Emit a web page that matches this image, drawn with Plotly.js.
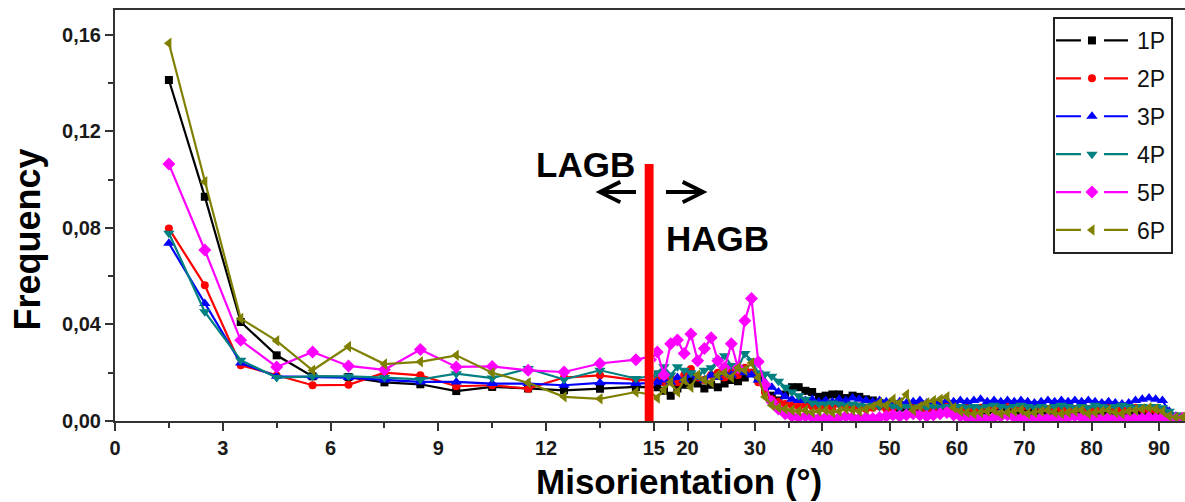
<!DOCTYPE html>
<html>
<head>
<meta charset="utf-8">
<script src="https://cdn.plot.ly/plotly-3.0.1.min.js"></script>
<style>
  html, body { margin: 0; padding: 0; background: #fff; }
  #chart { width: 1185px; height: 502px; }
</style>
</head>
<body>
<div id="chart"></div>
<script>
// ---- bin centres (degrees) ----
const lagbBins = [1.5,2.5,3.5,4.5,5.5,6.5,7.5,8.5,9.5,10.5,11.5,12.5,13.5,14.5];
const hagbBins = [15.5,16.5,17.5,18.5,19.5,20.5,21.5,22.5,23.5,24.5,25.5,26.5,27.5,28.5,29.5,30.5,31.5,32.5,33.5,34.5,
  35.5,36.5,37.5,38.5,39.5,40.5,41.5,42.5,43.5,44.5,45.5,46.5,47.5,48.5,49.5,50.5,51.5,52.5,53.5,54.5,
  55.5,56.5,57.5,58.5,59.5,60.5,61.5,62.5,63.5,64.5,65.5,66.5,67.5,68.5,69.5,70.5,71.5,72.5,73.5,74.5,
  75.5,76.5,77.5,78.5,79.5,80.5,81.5,82.5,83.5,84.5,85.5,86.5,87.5,88.5,89.5,90.5,91.5,92.5,93.5];

// ---- frequencies, low-angle part (1.5..14.5) ----
const p1Low = [0.1412,0.0929,0.0410,0.0272,0.0185,0.0182,0.0160,0.0152,0.0124,0.0141,0.0135,0.0127,0.0134,0.0141];
const p2Low = [0.0797,0.0562,0.0231,0.0188,0.0148,0.0150,0.0200,0.0189,0.0144,0.0148,0.0134,0.0180,0.0189,0.0169];
const p3Low = [0.0736,0.0487,0.0240,0.0185,0.0183,0.0180,0.0170,0.0162,0.0162,0.0155,0.0155,0.0148,0.0158,0.0155];
const p4Low = [0.0778,0.0452,0.0252,0.0180,0.0185,0.0185,0.0180,0.0172,0.0196,0.0178,0.0217,0.0172,0.0210,0.0176];
const p5Low = [0.1064,0.0708,0.0334,0.0224,0.0286,0.0228,0.0212,0.0296,0.0224,0.0226,0.0210,0.0203,0.0238,0.0254];
const p6Low = [0.1564,0.0991,0.0424,0.0332,0.0210,0.0308,0.0236,0.0245,0.0272,0.0200,0.0158,0.0100,0.0092,0.0120];

// ---- frequencies, high-angle part (15.5..93.5) ----
const p1High = [0.0140,0.0125,0.0105,0.0135,0.0150,0.0165,0.0155,0.0135,0.0150,0.0140,0.0155,0.0170,0.0165,0.0180,0.0200,0.0175,0.0130,0.0105,0.0085,0.0110,
  0.0140,0.0140,0.0125,0.0120,0.0100,0.0105,0.0110,0.0110,0.0095,0.0105,0.0100,0.0090,0.0085,0.0075,0.0070,0.0060,0.0055,0.0060,0.0050,0.0055,
  0.0060,0.0050,0.0055,0.0060,0.0050,0.0045,0.0040,0.0045,0.0040,0.0045,0.0050,0.0060,0.0055,0.0045,0.0040,0.0045,0.0040,0.0035,0.0040,0.0045,
  0.0040,0.0035,0.0030,0.0035,0.0040,0.0035,0.0030,0.0040,0.0035,0.0030,0.0035,0.0030,0.0035,0.0040,0.0035,0.0030,0.0020,0.0015,0.0015];
const p2High = [0.0170,0.0160,0.0180,0.0160,0.0190,0.0215,0.0180,0.0170,0.0190,0.0200,0.0180,0.0210,0.0190,0.0220,0.0200,0.0160,0.0120,0.0090,0.0080,0.0070,
  0.0065,0.0060,0.0065,0.0060,0.0055,0.0060,0.0055,0.0070,0.0060,0.0055,0.0060,0.0050,0.0055,0.0060,0.0050,0.0055,0.0060,0.0065,0.0055,0.0060,
  0.0050,0.0055,0.0065,0.0060,0.0055,0.0050,0.0055,0.0050,0.0055,0.0060,0.0055,0.0065,0.0070,0.0060,0.0055,0.0060,0.0065,0.0055,0.0050,0.0055,
  0.0050,0.0045,0.0050,0.0055,0.0050,0.0045,0.0050,0.0055,0.0050,0.0045,0.0050,0.0055,0.0050,0.0045,0.0045,0.0040,0.0030,0.0020,0.0020];
const p3High = [0.0160,0.0170,0.0160,0.0180,0.0170,0.0190,0.0180,0.0170,0.0190,0.0180,0.0200,0.0190,0.0210,0.0200,0.0190,0.0170,0.0160,0.0140,0.0120,0.0100,
  0.0090,0.0085,0.0085,0.0090,0.0080,0.0085,0.0080,0.0090,0.0085,0.0095,0.0090,0.0085,0.0080,0.0085,0.0080,0.0075,0.0080,0.0075,0.0080,0.0085,
  0.0075,0.0080,0.0075,0.0085,0.0080,0.0085,0.0080,0.0085,0.0090,0.0080,0.0085,0.0080,0.0085,0.0080,0.0085,0.0080,0.0075,0.0080,0.0085,0.0080,
  0.0085,0.0080,0.0085,0.0080,0.0085,0.0080,0.0075,0.0080,0.0075,0.0070,0.0075,0.0085,0.0090,0.0095,0.0090,0.0085,0.0040,0.0020,0.0015];
const p4High = [0.0200,0.0225,0.0190,0.0225,0.0210,0.0200,0.0190,0.0210,0.0220,0.0250,0.0270,0.0230,0.0220,0.0280,0.0250,0.0200,0.0195,0.0185,0.0165,0.0140,
  0.0120,0.0105,0.0090,0.0075,0.0070,0.0070,0.0075,0.0070,0.0065,0.0070,0.0065,0.0060,0.0065,0.0060,0.0065,0.0060,0.0055,0.0060,0.0055,0.0060,
  0.0055,0.0060,0.0055,0.0060,0.0055,0.0060,0.0055,0.0060,0.0055,0.0060,0.0065,0.0060,0.0055,0.0060,0.0065,0.0060,0.0055,0.0060,0.0055,0.0060,
  0.0065,0.0060,0.0055,0.0060,0.0055,0.0065,0.0060,0.0055,0.0060,0.0065,0.0060,0.0055,0.0060,0.0055,0.0060,0.0055,0.0040,0.0025,0.0020];
const p5High = [0.0286,0.0190,0.0320,0.0335,0.0280,0.0360,0.0250,0.0300,0.0345,0.0250,0.0220,0.0320,0.0220,0.0415,0.0507,0.0245,0.0150,0.0080,0.0050,0.0030,
  0.0020,0.0015,0.0020,0.0015,0.0010,0.0015,0.0010,0.0015,0.0020,0.0015,0.0010,0.0015,0.0010,0.0015,0.0020,0.0025,0.0020,0.0025,0.0030,0.0025,
  0.0020,0.0025,0.0030,0.0035,0.0025,0.0020,0.0015,0.0010,0.0015,0.0010,0.0015,0.0020,0.0025,0.0015,0.0010,0.0015,0.0010,0.0015,0.0010,0.0015,
  0.0010,0.0015,0.0020,0.0015,0.0010,0.0015,0.0010,0.0015,0.0010,0.0015,0.0010,0.0015,0.0010,0.0015,0.0010,0.0015,0.0010,0.0010,0.0010];
const p6High = [0.0095,0.0130,0.0160,0.0120,0.0170,0.0140,0.0190,0.0170,0.0160,0.0190,0.0200,0.0180,0.0220,0.0210,0.0240,0.0180,0.0100,0.0065,0.0055,0.0050,
  0.0045,0.0040,0.0045,0.0035,0.0040,0.0045,0.0035,0.0040,0.0050,0.0045,0.0040,0.0050,0.0060,0.0075,0.0065,0.0090,0.0075,0.0110,0.0045,0.0060,
  0.0075,0.0085,0.0090,0.0100,0.0055,0.0040,0.0035,0.0030,0.0035,0.0040,0.0045,0.0030,0.0035,0.0040,0.0045,0.0030,0.0035,0.0040,0.0045,0.0035,
  0.0030,0.0035,0.0040,0.0045,0.0030,0.0035,0.0040,0.0045,0.0035,0.0030,0.0040,0.0045,0.0050,0.0055,0.0050,0.0040,0.0020,0.0015,0.0015];

// ---- series names / ticks ----
const seriesNames = ['1P','2P','3P','4P','5P','6P'];
const yTickVals = [0, 0.04, 0.08, 0.12, 0.16];
const yTickText = ['0,00','0,04','0,08','0,12','0,16'];
const yMinorVals = [0.02, 0.06, 0.10, 0.14];
const xLowTickVals = [0, 3, 6, 9, 12];
const xLowMinorVals = [1.5, 4.5, 7.5, 10.5, 13.5];
const xHighTickVals = [15, 20, 30, 40, 50, 60, 70, 80, 90];
const xHighMinorVals = [25, 35, 45, 55, 65, 75, 85];
const boundaryAngle = 14.87;   // LAGB / HAGB marker position
const boundaryTop = 0.1064;

const colors = ['#000000','#ff0000','#0000ff','#008080','#ff00ff','#808000'];
const symbols = ['square','circle','triangle-up','triangle-down','diamond','triangle-left'];
const sizes = [8, 8, 10, 10, 10, 10];
const lows = [p1Low,p2Low,p3Low,p4Low,p5Low,p6Low];
const highs = [p1High,p2High,p3High,p4High,p5High,p6High];

const allBins = lagbBins.concat(hagbBins);
const traces = [];
const nL = lagbBins.length;
seriesNames.forEach((name, i) => {
  const full = lows[i].concat(highs[i]);
  const common = {
    type: 'scatter', mode: 'lines+markers', name: name, legendgroup: name,
    line: {color: colors[i], width: 2.2},
    marker: {color: colors[i], symbol: symbols[i], size: sizes[i]},
    hoverinfo: 'x+y+name'
  };
  // low-angle segment (linear 0-15 axis); one extra point so the line meets the break
  traces.push(Object.assign({}, common, {
    x: allBins.slice(0, nL + 1), y: full.slice(0, nL + 1),
    xaxis: 'x', yaxis: 'y', showlegend: true
  }));
  // high-angle segment (compressed 15-94 axis)
  traces.push(Object.assign({}, common, {
    x: allBins.slice(nL - 1), y: full.slice(nL - 1),
    xaxis: 'x2', yaxis: 'y', showlegend: false
  }));
});

const tickFont = {family: 'Liberation Sans, Arial, sans-serif', size: 20, color: '#1a1a1a', weight: 'bold'};
const splitFrac = 0.5036;
const axisCommon = {
  showline: true, linewidth: 2, linecolor: '#333', mirror: true,
  ticks: 'outside', ticklen: 8, tickwidth: 2, tickcolor: '#333',
  showgrid: false, zeroline: false, tickfont: tickFont
};

const layout = {
  width: 1185, height: 502,
  margin: {l: 115, r: 0, t: 10, b: 81},
  paper_bgcolor: '#fff', plot_bgcolor: '#fff',
  showlegend: true,
  xaxis: Object.assign({}, axisCommon, {
    domain: [0, splitFrac], range: [0, 15], anchor: 'y',
    tickmode: 'array', tickvals: xLowTickVals,
    minor: {tickmode: 'array', tickvals: xLowMinorVals, ticks: 'outside', ticklen: 5, tickwidth: 2, tickcolor: '#333'}
  }),
  xaxis2: Object.assign({}, axisCommon, {
    domain: [splitFrac, 1], range: [15, 93.85], anchor: 'y',
    tickmode: 'array', tickvals: xHighTickVals,
    minor: {tickmode: 'array', tickvals: xHighMinorVals, ticks: 'outside', ticklen: 5, tickwidth: 2, tickcolor: '#333'}
  }),
  yaxis: Object.assign({}, axisCommon, {
    mirror: false, range: [0, 0.1702], anchor: 'x',
    tickmode: 'array', tickvals: yTickVals, ticktext: yTickText,
    minor: {tickmode: 'array', tickvals: yMinorVals, ticks: 'outside', ticklen: 5, tickwidth: 2, tickcolor: '#333'}
  }),
  legend: {
    x: 0.8766, y: 0.983, xanchor: 'left', yanchor: 'top',
    bordercolor: '#222', borderwidth: 2, bgcolor: '#fff',
    font: {family: 'Liberation Sans, Arial, sans-serif', size: 23, color: '#111'},
    itemwidth: 72, traceorder: 'grouped', tracegroupgap: 5
  },
  shapes: [{
    type: 'line', xref: 'x', yref: 'y',
    x0: boundaryAngle, x1: boundaryAngle, y0: 0, y1: boundaryTop,
    line: {color: '#ff0000', width: 9}
  }],
  annotations: [
    {xref: 'x', yref: 'y', x: 13.098, y: 0.1064, text: 'LAGB', showarrow: false,
     xanchor: 'center', yanchor: 'middle',
     font: {family: 'Liberation Sans, Arial, sans-serif', size: 35, color: '#000', weight: 'bold'}},
    {xref: 'x2', yref: 'y', x: 24.45, y: 0.0757, text: 'HAGB', showarrow: false,
     xanchor: 'center', yanchor: 'middle',
     font: {family: 'Liberation Sans, Arial, sans-serif', size: 35, color: '#000', weight: 'bold'}},
    {xref: 'x', yref: 'y', x: 13.376, y: 0.0948, text: '', showarrow: true,
     ax: 42, ay: 0, arrowhead: 5, arrowsize: 1, arrowwidth: 4, arrowcolor: '#000', standoff: 0},
    {xref: 'x2', yref: 'y', x: 22.96, y: 0.0948, text: '', showarrow: true,
     ax: -43, ay: 0, arrowhead: 5, arrowsize: 1, arrowwidth: 4, arrowcolor: '#000', standoff: 0},
    {xref: 'paper', yref: 'paper', x: 0.527, y: -0.1468, text: 'Misorientation (°)', showarrow: false,
     xanchor: 'center', yanchor: 'middle',
     font: {family: 'Liberation Sans, Arial, sans-serif', size: 35, color: '#000', weight: 'bold'}},
    {xref: 'paper', yref: 'paper', x: -0.0819, y: 0.4424, text: 'Frequency', showarrow: false,
     textangle: -90, xanchor: 'center', yanchor: 'middle',
     font: {family: 'Liberation Sans, Arial, sans-serif', size: 36, color: '#000', weight: 'bold'}}
  ]
};

Plotly.newPlot('chart', traces, layout, {displayModeBar: false, responsive: false}).then(gd => {
  // Origin-style legend keys: line broken around the marker
  gd.querySelectorAll('.legend .legendlines path').forEach(p => {
    p.setAttribute('d', 'M1,0h25M49,0h24');
  });
  gd.querySelectorAll('.legend .legendpoints path.scatterpts').forEach(p => {
    p.setAttribute('transform', 'translate(37,0)');
  });
});
</script>
</body>
</html>
